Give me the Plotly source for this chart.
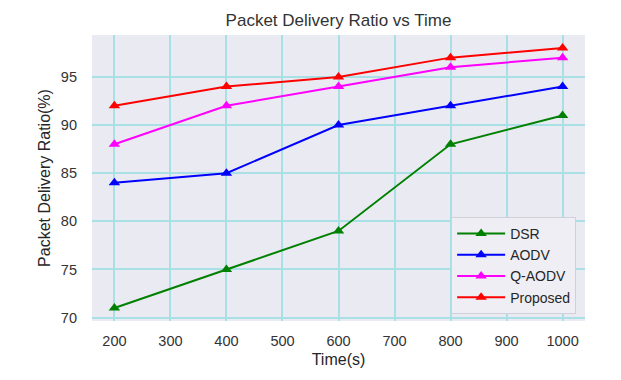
import plotly.graph_objects as go

time_s = [200, 400, 600, 800, 1000]
dsr = [71, 75, 79, 88, 91]
aodv = [84, 85, 90, 92, 94]
qaodv = [88, 92, 94, 96, 97]
proposed = [92, 94, 95, 97, 98]

series = [("DSR", dsr, "#008000"), ("AODV", aodv, "#0000ff"),
          ("Q-AODV", qaodv, "#ff00ff"), ("Proposed", proposed, "#ff0000")]

fig = go.Figure()
for name, vals, col in series:
    fig.add_trace(go.Scatter(x=time_s, y=vals, name=name, mode="lines+markers",
                             line=dict(color=col, width=2),
                             marker=dict(symbol="triangle-up", size=10, color=col)))

font = "Liberation Sans, Arial, sans-serif"
fig.update_layout(
    width=621, height=380,
    margin=dict(l=84, r=44, t=27, b=67, autoexpand=False),
    paper_bgcolor="white", plot_bgcolor="#EAEAF2",
    font=dict(family=font, size=14, color="#262626"),
    title=dict(text="Packet Delivery Ratio vs Time", x=0.5, xref="paper", xanchor="center",
               y=1 - 12.5 / 380, yref="container", yanchor="middle", automargin=False,
               font=dict(size=17, color="#333333")),
    xaxis=dict(range=[160, 1040], tickvals=[200, 300, 400, 500, 600, 700, 800, 900, 1000],
               showgrid=True, gridcolor="#A9E0E5", gridwidth=2, zeroline=False,
               showline=False, ticks="", automargin=False, ticklabelstandoff=9,
               tickfont=dict(size=14.5, color="#333333"),
               title=dict(text="Time(s)", standoff=6, font=dict(size=16, color="#262626"))),
    yaxis=dict(range=[69.65, 99.35], tickvals=[70, 75, 80, 85, 90, 95],
               showgrid=True, gridcolor="#A9E0E5", gridwidth=2, zeroline=False,
               showline=False, ticks="", automargin=False, ticklabelstandoff=14,
               tickfont=dict(size=14.5, color="#333333"),
               title=dict(text="Packet Delivery Ratio(%)", standoff=6, font=dict(size=16, color="#262626"))),
    legend=dict(x=0.982, y=0.0245, xanchor="right", yanchor="bottom",
                bgcolor="#EEEEF4", bordercolor="#D0D0D8", borderwidth=1,
                itemwidth=48,
                font=dict(size=14, color="#262626"), tracegroupgap=0),
)
fig.write_html("out.html")
